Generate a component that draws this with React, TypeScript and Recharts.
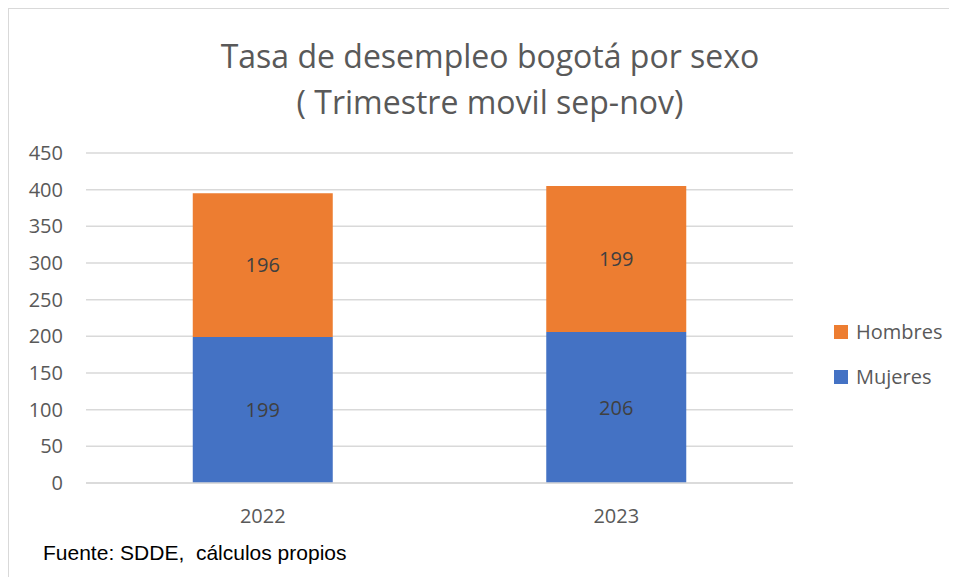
import React from "react";
import { BarChart, Bar, XAxis, YAxis, CartesianGrid, LabelList } from "recharts";

const categories = ["2022", "2023"];
const mujeres = [199, 206];
const hombres = [196, 199];
const yTicks = [0, 50, 100, 150, 200, 250, 300, 350, 400, 450];
const legendItems = [
  { name: "Hombres", color: "#ED7D31" },
  { name: "Mujeres", color: "#4472C4" },
];

const data = categories.map((c, i) => ({ year: c, Mujeres: mujeres[i], Hombres: hombres[i] }));

const TEXT = "#595959";
const FONT = "'Open Sans', sans-serif";

export default function App() {
  return (
    <div
      style={{
        position: "relative",
        width: 947,
        height: 580,
        border: "1px solid #D9D9D9",
        boxSizing: "border-box",
        background: "#fff",
      }}
    >
      <div
        style={{
          position: "absolute",
          left: 0,
          width: 962,
          top: 24,
          textAlign: "center",
          fontFamily: FONT,
          fontSize: 32,
          lineHeight: "46px",
          color: TEXT,
        }}
      >
        <div>Tasa de desempleo bogotá por sexo</div>
        <div>( Trimestre movil sep-nov)</div>
      </div>
      <BarChart
        width={945}
        height={569}
        data={data}
        margin={{ top: 144, right: 161, bottom: 65, left: 0 }}
        barCategoryGap="30.2%"
      >
        <CartesianGrid vertical={false} stroke="#D9D9D9" strokeWidth={1.5} />
        <XAxis
          dataKey="year"
          axisLine={{ stroke: "#D9D9D9", strokeWidth: 1.5 }}
          tickLine={false}
          tickSize={0}
          tickMargin={26}
          tick={{ fill: TEXT, fontSize: 20, fontFamily: FONT }}
        />
        <YAxis
          width={77}
          domain={[0, 450]}
          ticks={yTicks}
          interval={0}
          axisLine={false}
          tickLine={false}
          tickSize={0}
          tickMargin={23}
          tick={{ fill: TEXT, fontSize: 20, fontFamily: FONT }}
        />
        <Bar dataKey="Mujeres" stackId="a" fill="#4472C4" isAnimationActive={false}>
          <LabelList dataKey="Mujeres" position="center" fill="#404040" fontSize={20} fontFamily={FONT} />
        </Bar>
        <Bar dataKey="Hombres" stackId="a" fill="#ED7D31" isAnimationActive={false}>
          <LabelList dataKey="Hombres" position="center" fill="#404040" fontSize={20} fontFamily={FONT} />
        </Bar>
      </BarChart>
      <div
        style={{
          position: "absolute",
          left: 825,
          top: 300,
          fontFamily: FONT,
          fontSize: 20,
          color: TEXT,
        }}
      >
        {legendItems.map((it) => (
          <div key={it.name} style={{ display: "flex", alignItems: "center", height: 45 }}>
            <span style={{ display: "inline-block", width: 14, height: 14, background: it.color, marginRight: 8 }} />
            <span>{it.name}</span>
          </div>
        ))}
      </div>
      <div
        style={{
          position: "absolute",
          left: 34,
          top: 532,
          fontFamily: "'Liberation Sans', Arial, sans-serif",
          fontSize: 21,
          color: "#000",
          whiteSpace: "pre",
        }}
      >
        {"Fuente: SDDE,  cálculos propios"}
      </div>
    </div>
  );
}
